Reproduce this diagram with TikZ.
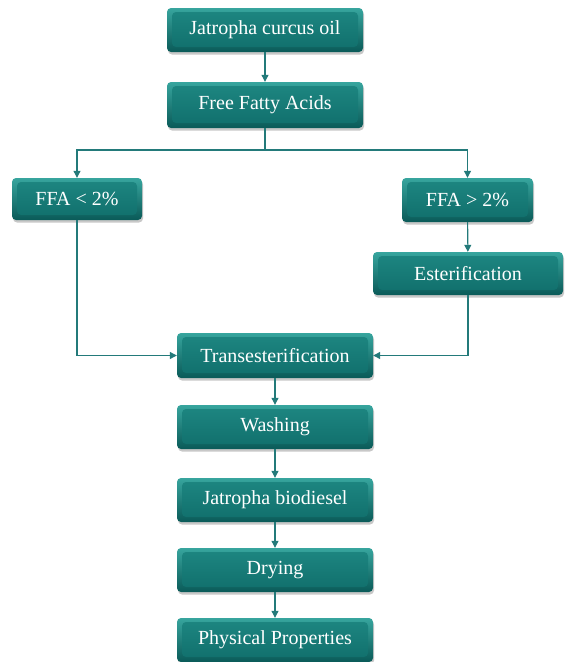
\documentclass[tikz,border=0pt]{standalone}
\usepackage{fontspec}
\setmainfont{Liberation Serif}
\usetikzlibrary{arrows.meta,shadows}
\definecolor{tealtop}{RGB}{30,135,130}
\definecolor{tealbot}{RGB}{16,110,107}
\definecolor{teallight}{RGB}{55,165,158}
\definecolor{tealdark}{RGB}{10,90,88}
\definecolor{linecol}{RGB}{35,122,122}
\tikzset{
  box/.style={rectangle, rounded corners=4pt, minimum height=44pt, inner sep=0pt,
    top color=teallight, bottom color=tealdark, text=white,
    font=\fontsize{20}{23}\selectfont,
    drop shadow={shadow xshift=1pt, shadow yshift=-2.5pt, opacity=0.3, fill=black!70},
    path picture={\shade[top color=tealtop, bottom color=tealbot]
      ([shift={(5pt,-4pt)}]path picture bounding box.north west)
      rectangle ([shift={(-5pt,5pt)}]path picture bounding box.south east);}},
  arr/.style={draw=linecol, line width=1.1pt, -{Triangle[length=7pt,width=7pt]}},
  ln/.style={draw=linecol, line width=1.1pt}
}
\begin{document}
\begin{tikzpicture}[x=1pt,y=-1pt]
\useasboundingbox[fill=white] (0,0) rectangle (565,662);
\node[box, minimum width=196pt] (oil) at (265,30) {Jatropha curcus oil};
\node[box, minimum width=196pt, minimum height=46pt] (ffa) at (265,105) {Free Fatty Acids};
\node[box, minimum width=130pt, minimum height=42pt] (lt) at (77,199) {FFA < 2\%};
\node[box, minimum width=131pt] (gt) at (467.5,200) {FFA > 2\%};
\node[box, minimum width=190pt, minimum height=43pt] (est) at (468,273.5) {Esterification};
\node[box, minimum width=196pt, minimum height=45pt] (tr) at (275,355.5) {Transesterification};
\node[box, minimum width=196pt] (wash) at (275,427) {Washing};
\node[box, minimum width=196pt] (bio) at (275,500) {Jatropha biodiesel};
\node[box, minimum width=196pt] (dry) at (275,570) {Drying};
\node[box, minimum width=196pt] (phys) at (275,640) {Physical Properties};
\coordinate (split) at (265,150);
\draw[arr] (oil) -- (ffa);
\draw[ln] (ffa.south) -- (split);
\draw[arr] (split) -| (lt.north);
\draw[arr] (split) -| (gt.north);
\draw[arr] (gt) -- (est);
\draw[arr] (lt.south) |- (tr.west);
\draw[arr] (est.south) |- (tr.east);
\draw[arr] (tr) -- (wash);
\draw[arr] (wash) -- (bio);
\draw[arr] (bio) -- (dry);
\draw[arr] (dry) -- (phys);
\end{tikzpicture}
\end{document}
